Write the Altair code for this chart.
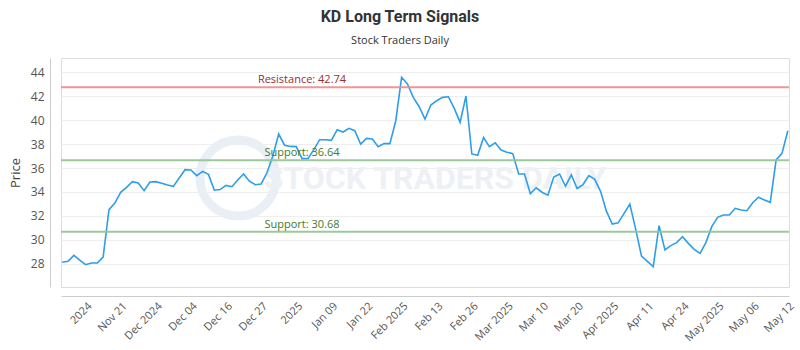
import altair as alt
import pandas as pd

prices = [
    28.14, 28.22, 28.72, 28.33, 27.94, 28.08, 28.08, 28.58, 32.53, 33.08,
    33.97, 34.39, 34.86, 34.75, 34.11, 34.83, 34.86, 34.72, 34.58, 34.47,
    35.17, 35.86, 35.83, 35.36, 35.72, 35.47, 34.15, 34.20, 34.55, 34.44,
    35.00, 35.50, 34.90, 34.61, 34.67, 35.60, 37.00, 38.83, 37.90, 37.80,
    37.78, 36.78, 36.78, 37.53, 38.36, 38.36, 38.31, 39.19, 39.00, 39.31,
    39.11, 38.00, 38.47, 38.42, 37.78, 38.03, 38.03, 39.92, 43.56, 43.00,
    41.89, 41.11, 40.08, 41.25, 41.61, 41.89, 41.94, 40.97, 39.81, 42.00,
    37.17, 37.06, 38.53, 37.78, 38.10, 37.50, 37.32, 37.20, 35.50, 35.50,
    33.86, 34.35, 33.98, 33.73, 35.25, 35.50, 34.48, 35.43, 34.29, 34.62,
    35.36, 35.05, 34.05, 32.40, 31.33, 31.43, 32.20, 33.00, 30.90, 28.65,
    28.22, 27.78, 31.19, 29.17, 29.53, 29.78, 30.28, 29.72, 29.22, 28.89,
    29.78, 31.11, 31.89, 32.08, 32.08, 32.64, 32.50, 32.44, 33.11, 33.56,
    33.33, 33.14, 36.67, 37.22, 39.11,
]

tick_labels = [
    "2024", "Nov 21", "Dec 2024", "Dec 04", "Dec 16", "Dec 27", "2025",
    "Jan 09", "Jan 22", "Feb 2025", "Feb 13", "Feb 26", "Mar 2025", "Mar 10",
    "Mar 20", "Apr 2025", "Apr 11", "Apr 24", "May 2025", "May 06", "May 12",
]
tick_index = list(range(4, 125, 6))

levels = [42.74, 36.64, 30.68]
level_names = ["Resistance", "Support", "Support"]
line_colors = ["#ea8c8c", "#8fc48f", "#8fc48f"]
text_colors = ["#9a2e2e", "#3f7a2c", "#3f7a2c"]

y_ticks = list(range(28, 45, 2))

df = pd.DataFrame({"i": list(range(len(prices))), "price": prices})
lv = pd.DataFrame({
    "level": levels,
    "label": [f"{n}: {v:.2f}" for n, v in zip(level_names, levels)],
    "lc": line_colors,
    "tc": text_colors,
})

FONT = "Open Sans"
label_array = "[" + ",".join("'" + t + "'" for t in tick_labels) + "]"
label_expr = f"{label_array}[round((datum.value - 4) / 6)]"

x_scale = alt.Scale(domain=[-0.2, 124.2], nice=False, zero=False)
y_scale = alt.Scale(domain=[26.08, 45.17], nice=False, zero=False)

y_axis = alt.Axis(values=y_ticks, title="Price", grid=True, gridColor="#eeeeee",
                  ticks=False, offset=11, domainColor="#cccccc",
                  labelPadding=6, labelFontSize=12, labelColor="#555555",
                  labelFont=FONT, titleFont=FONT, titleFontSize=13,
                  titleFontWeight="normal", titleColor="#444444",
                  titlePadding=8)

x_enc = alt.X(
    "i:Q", scale=x_scale,
    axis=alt.Axis(values=tick_index, labelExpr=label_expr, labelAngle=-45,
                  grid=False, ticks=False, domainColor="#cccccc", offset=9,
                  title=None, labelFontSize=11, labelColor="#555555",
                  labelFont=FONT, labelPadding=4, labelOverlap=False),
)
y_enc = alt.Y("price:Q", scale=y_scale, axis=y_axis, title="Price")

watermark_logo = alt.Chart(pd.DataFrame({"k": [0]})).mark_point(
    shape="circle", filled=False, stroke="#eaeff5", strokeWidth=9, opacity=1
).encode(x=alt.value(177), y=alt.value(120), size=alt.value(5800))

watermark_text = alt.Chart(pd.DataFrame({"t": ["STOCK TRADERS DAILY"]})).mark_text(
    font="Roboto", fontSize=32, fontWeight="bold", color="#edf1f6",
    align="center", baseline="middle"
).encode(x=alt.value(374), y=alt.value(121), text="t:N")

line = alt.Chart(df).mark_line(color="#2f9ee8", strokeWidth=1.6).encode(
    x=x_enc, y=y_enc
)

rules = alt.Chart(lv).mark_rule(strokeWidth=2, opacity=0.9).encode(
    y=alt.Y("level:Q", scale=y_scale, axis=y_axis, title="Price"),
    color=alt.Color("lc:N", scale=None),
)

texts = alt.Chart(lv).mark_text(
    font=FONT, fontSize=11, align="center", baseline="bottom", dy=-2
).encode(
    x=alt.value(241),
    y=alt.Y("level:Q", scale=y_scale, axis=y_axis, title="Price"),
    text="label:N",
    color=alt.Color("tc:N", scale=None),
)

chart = alt.layer(watermark_logo, watermark_text, line, rules, texts).properties(
    width=728, height=229,
    autosize="none",
    padding={"left": 61, "top": 58, "right": 11, "bottom": 63},
    title=alt.TitleParams(
        text="KD Long Term Signals", subtitle="Stock Traders Daily",
        font="Roboto", fontSize=16, fontWeight="bold", color="#333333",
        subtitleFont=FONT, subtitleFontSize=11, subtitleColor="#333333",
        anchor="middle", dx=-25, offset=12, subtitlePadding=10,
    ),
).configure_view(stroke="#777777", strokeWidth=1).configure(background="white")

chart.save("out.html", embed_options={"renderer": "svg", "actions": False})
